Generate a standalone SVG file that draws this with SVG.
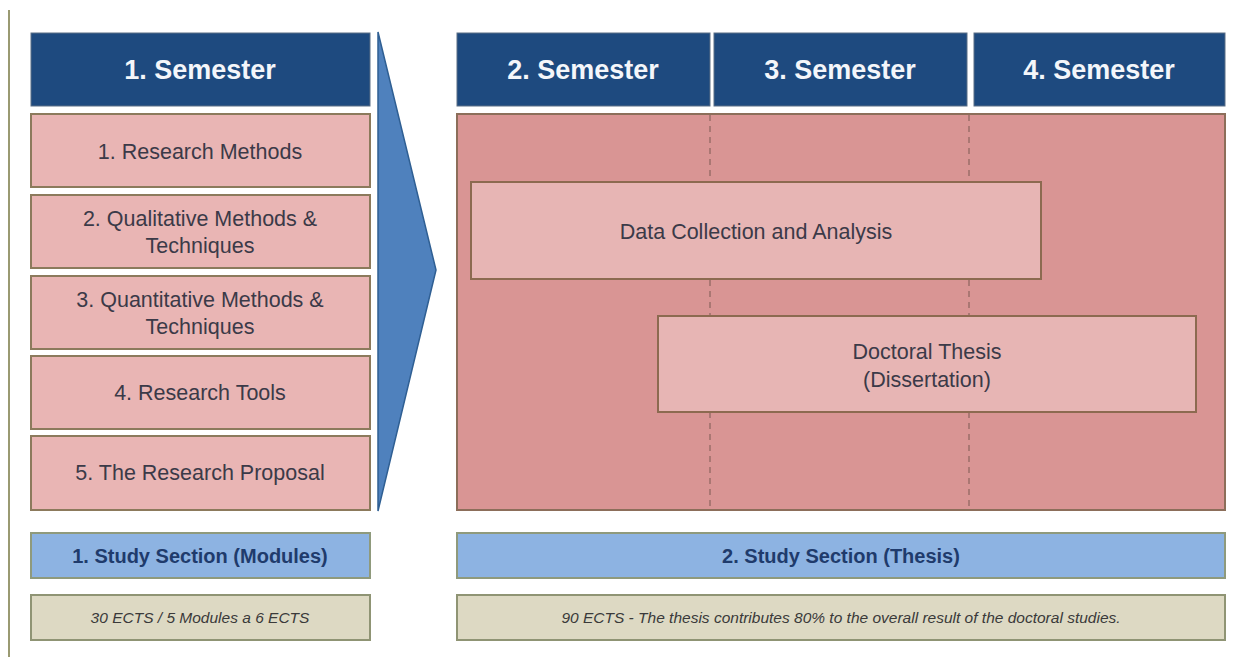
<svg xmlns="http://www.w3.org/2000/svg" width="1243" height="657" viewBox="0 0 1243 657">
<style>
.hdr{fill:#1e4a7f;stroke:#5b6f86;stroke-width:1}
.hdrt{font-family:"Liberation Sans",Arial,sans-serif;font-weight:bold;font-size:27px;fill:#f4f6fa;text-anchor:middle}
.mod{fill:#e9b5b4;stroke:#8c7a5c;stroke-width:2}
.modt{font-family:"Liberation Sans",Arial,sans-serif;font-size:21.5px;fill:#3b3a48;text-anchor:middle}
.big{fill:#d99594;stroke:#8c6e5a;stroke-width:2}
.inner{fill:#e7b5b4;stroke:#8c6a50;stroke-width:2}
.sec{fill:#8db3e2;stroke:#8f9a7c;stroke-width:2}
.sect{font-family:"Liberation Sans",Arial,sans-serif;font-weight:bold;font-size:20px;fill:#1f3b6c;text-anchor:middle}
.ects{fill:#ddd9c3;stroke:#8f9474;stroke-width:2}
.ectst{font-family:"Liberation Sans",Arial,sans-serif;font-style:italic;font-size:15.5px;fill:#3a3a3a;text-anchor:middle}
.dash{stroke:#9a6e68;stroke-width:1.5;stroke-dasharray:6 5;fill:none}
</style>
<rect x="0" y="0" width="1243" height="657" fill="#ffffff"/>
<line x1="9" y1="10" x2="9" y2="657" stroke="#9a9a72" stroke-width="2"/>

<g id="sem1"><rect class="hdr" x="31" y="33" width="339" height="73"/><text class="hdrt" x="200" y="79">1. Semester</text></g>
<g id="sem2"><rect class="hdr" x="457" y="33" width="253" height="73"/><text class="hdrt" x="583" y="79">2. Semester</text></g>
<g id="sem3"><rect class="hdr" x="714" y="33" width="253" height="73"/><text class="hdrt" x="840" y="79">3. Semester</text></g>
<g id="sem4"><rect class="hdr" x="974" y="33" width="251" height="73"/><text class="hdrt" x="1099" y="79">4. Semester</text></g>

<g id="m1"><rect class="mod" x="31" y="114" width="339" height="73"/><text class="modt" x="200" y="159">1. Research Methods</text></g>
<g id="m2"><rect class="mod" x="31" y="195" width="339" height="73"/><text class="modt" x="200" y="226">2. Qualitative Methods &amp;</text><text class="modt" x="200" y="253">Techniques</text></g>
<g id="m3"><rect class="mod" x="31" y="276" width="339" height="73"/><text class="modt" x="200" y="307">3. Quantitative Methods &amp;</text><text class="modt" x="200" y="334">Techniques</text></g>
<g id="m4"><rect class="mod" x="31" y="356" width="339" height="73"/><text class="modt" x="200" y="400">4. Research Tools</text></g>
<g id="m5"><rect class="mod" x="31" y="436" width="339" height="74"/><text class="modt" x="200" y="480">5. The Research Proposal</text></g>

<g id="arrow"><polygon points="378,32 436,270 378,511" fill="#4f81bd" stroke="#2f5f93" stroke-width="1.5"/></g>

<g id="thesisArea">
<rect class="big" x="457" y="114" width="768" height="396"/>
<line class="dash" x1="710" y1="115" x2="710" y2="509"/>
<line class="dash" x1="969" y1="115" x2="969" y2="509"/>
</g>
<g id="dca"><rect class="inner" x="471" y="182" width="570" height="97"/><text class="modt" x="756" y="239">Data Collection and Analysis</text></g>
<g id="dt"><rect class="inner" x="658" y="316" width="538" height="96"/><text class="modt" x="927" y="359">Doctoral Thesis</text><text class="modt" x="927" y="387">(Dissertation)</text></g>

<g id="s1"><rect class="sec" x="31" y="533" width="339" height="45"/><text class="sect" x="200" y="563">1. Study Section (Modules)</text></g>
<g id="s2"><rect class="sec" x="457" y="533" width="768" height="45"/><text class="sect" x="841" y="563">2. Study Section (Thesis)</text></g>
<g id="e1"><rect class="ects" x="31" y="595" width="339" height="45"/><text class="ectst" x="200" y="623">30 ECTS / 5 Modules a 6 ECTS</text></g>
<g id="e2"><rect class="ects" x="457" y="595" width="768" height="45"/><text class="ectst" x="841" y="623">90 ECTS - The thesis contributes 80% to the overall result of the doctoral studies.</text></g>
</svg>
